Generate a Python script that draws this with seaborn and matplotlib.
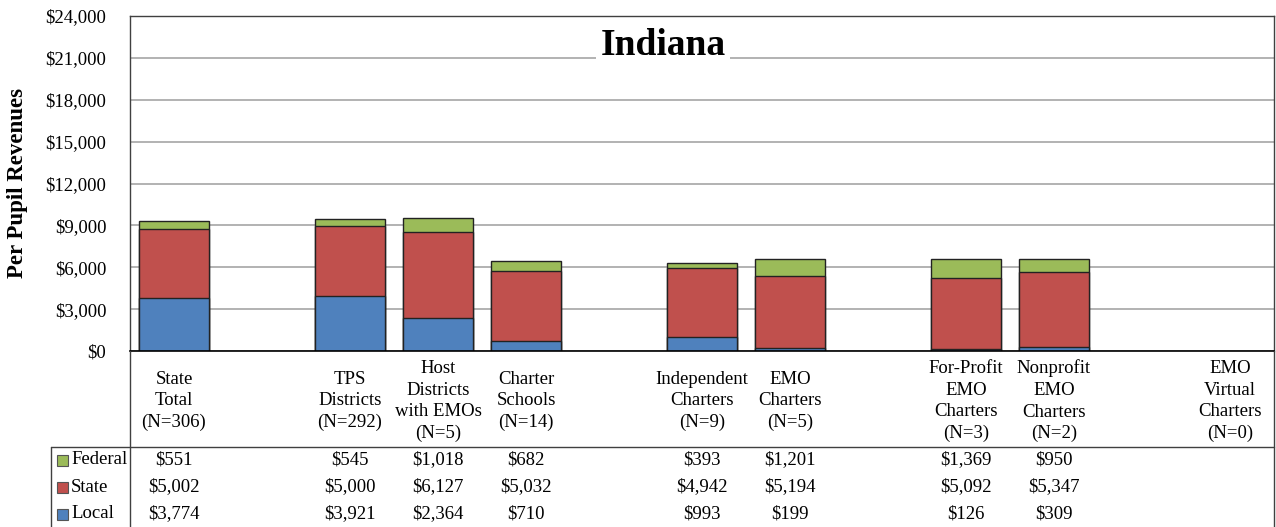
import numpy as np
import pandas as pd
import matplotlib.pyplot as plt
from matplotlib.lines import Line2D
from matplotlib.patches import Rectangle
from matplotlib.ticker import FuncFormatter
import seaborn as sns

# Data
labels = ["State\nTotal\n(N=306)", "TPS\nDistricts\n(N=292)", "Host\nDistricts\nwith EMOs\n(N=5)",
          "Charter\nSchools\n(N=14)", "Independent\nCharters\n(N=9)", "EMO\nCharters\n(N=5)",
          "For-Profit\nEMO\nCharters\n(N=3)", "Nonprofit\nEMO\nCharters\n(N=2)",
          "EMO\nVirtual\nCharters\n(N=0)"]
slots = [0, 2, 3, 4, 6, 7, 9, 10, 12]
federal = [551, 545, 1018, 682, 393, 1201, 1369, 950, np.nan]
state = [5002, 5000, 6127, 5032, 4942, 5194, 5092, 5347, np.nan]
local = [3774, 3921, 2364, 710, 993, 199, 126, 309, np.nan]
series_names = ["Federal", "State", "Local"]
colors = {"Federal": "#9BBB59", "State": "#C0504D", "Local": "#4F81BD"}

df = pd.DataFrame({"label": labels, "slot": slots, "Federal": federal,
                   "State": state, "Local": local})
df["local_top"] = df["Local"]
df["state_top"] = df["Local"] + df["State"]
df["federal_top"] = df["state_top"] + df["Federal"]
bars = df.dropna()

sns.set_style("white")
plt.rcParams["font.family"] = ["Liberation Serif", "DejaVu Serif"]
plt.rcParams["text.color"] = "black"
plt.rcParams["ytick.color"] = "black"

W, H = 1276, 527
fig = plt.figure(figsize=(W / 100, H / 100), dpi=100)
def fx(x): return x / W
def fy(y): return 1 - y / H

ax = fig.add_axes([fx(130), fy(351), (1274 - 130) / W, (351 - 16) / H])

# stacked bars: draw cumulative totals from top segment down
for col, name in [("federal_top", "Federal"), ("state_top", "State"), ("local_top", "Local")]:
    sns.barplot(data=bars, x="slot", y=col, native_scale=True, color=colors[name],
                saturation=1, width=0.8, edgecolor="#222222", linewidth=1,
                errorbar=None, ax=ax)

ax.set_xlim(-0.5, 12.5)
ax.set_ylim(0, 24000)
ax.set_yticks(np.arange(0, 24001, 3000))
ax.yaxis.set_major_formatter(FuncFormatter(lambda v, p: f"${v:,.0f}"))
ax.tick_params(axis="y", length=0, pad=17, labelsize=13.5, labelcolor="black")
ax.set_xticks([])
ax.set_xlabel("")
ax.set_ylabel("")
ax.grid(axis="y", color="#A6A6A6", linewidth=1.2)
ax.set_axisbelow(True)
for s in ["top", "left", "right"]:
    ax.spines[s].set_color("#404040")
    ax.spines[s].set_linewidth(1)
ax.spines["bottom"].set_color("black")
ax.spines["bottom"].set_linewidth(1.2)

# title with white box over gridlines
ax.text(0.466, (351 - 55) / 335, "Indiana", transform=ax.transAxes, ha="center",
        va="baseline", fontsize=27, fontweight="bold", color="black",
        bbox=dict(facecolor="white", edgecolor="none", pad=3))

fig.text(fx(18), fy(183), "Per Pupil Revenues", rotation=90, ha="center", va="center",
         fontsize=16.5, fontweight="bold", color="black")

# category labels and data table
trans = ax.get_xaxis_transform()
for _, r in df.iterrows():
    ax.text(r["slot"], (351 - 401) / 335, r["label"], transform=trans, ha="center",
            va="center", fontsize=13.5, linespacing=1.35, clip_on=False)

row_y = {"Federal": 460, "State": 487, "Local": 514}
for name in series_names:
    y = row_y[name]
    fig.patches.append(Rectangle((fx(57), fy(y + 5.5)), 11 / W, 11 / H, transform=fig.transFigure,
                                 facecolor=colors[name], edgecolor="#555555", linewidth=0.8))
    fig.text(fx(71), fy(y), name, ha="left", va="center", fontsize=13.5)
    for _, r in bars.iterrows():
        ax.text(r["slot"], (351 - y) / 335, f"${r[name]:,.0f}", transform=trans,
                ha="center", va="center", fontsize=13.5, clip_on=False)

line_kw = dict(color="#404040", linewidth=1, transform=fig.transFigure)
fig.lines.extend([
    Line2D([fx(51), fx(1274)], [fy(447), fy(447)], **line_kw),
    Line2D([fx(51), fx(51)], [fy(447), fy(527)], **line_kw),
    Line2D([fx(130), fx(130)], [fy(351), fy(527)], **line_kw),
    Line2D([fx(1274), fx(1274)], [fy(351), fy(527)], **line_kw),
])

fig.savefig("out.png", dpi=100, facecolor="white")
